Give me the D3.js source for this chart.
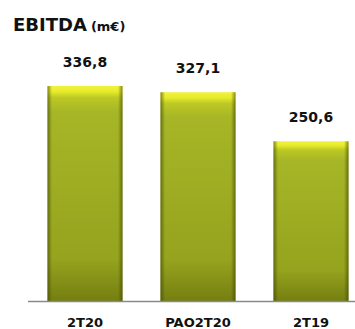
<!DOCTYPE html>
<html><head><meta charset="utf-8">
<script src="https://cdn.jsdelivr.net/npm/d3@7"></script>
<style>body{margin:0;background:#fff}svg{display:block}</style>
</head><body>
<script>
const categories = ["2T20", "PAO2T20", "2T19"];
const values = [336.8, 327.1, 250.6];
const valueLabels = ["336,8", "327,1", "250,6"];
const title = "EBITDA";
const unit = "(m€)";

const W = 355, H = 329;
const svg = d3.select("body").append("svg").attr("width", W).attr("height", H);
const defs = svg.append("defs");
const gv = defs.append("linearGradient").attr("id", "gv").attr("x1", 0).attr("x2", 0).attr("y1", 0).attr("y2", 1);
[[0, "#f2f23c"], [0.025, "#e6ec2c"], [0.055, "#bcc824"], [0.12, "#a6b626"], [0.8, "#95a31e"], [1, "#747e10"]]
  .forEach(([o, c]) => gv.append("stop").attr("offset", o).attr("stop-color", c));
const gh = defs.append("linearGradient").attr("id", "gh").attr("x1", 0).attr("x2", 1).attr("y1", 0).attr("y2", 0);
[[0, "#3a4200", 0.6], [0.06, "#3a4200", 0], [0.94, "#3a4200", 0], [1, "#3a4200", 0.6]]
  .forEach(([o, c, a]) => gh.append("stop").attr("offset", o).attr("stop-color", c).attr("stop-opacity", a));

const x = d3.scaleBand().domain(categories).range([28.5, 367.5]).paddingInner(0.336).paddingOuter(0.168);
const y = d3.scaleLinear().domain([0, 336.8]).range([302, 86]);

const g = svg.append("g");
g.selectAll("rect.bar").data(values).join("rect").attr("class", "bar")
  .attr("x", (d, i) => x(categories[i])).attr("width", x.bandwidth())
  .attr("y", d => y(d)).attr("height", d => y(0) - y(d))
  .attr("fill", "url(#gv)");
g.selectAll("rect.edge").data(values).join("rect").attr("class", "edge")
  .attr("x", (d, i) => x(categories[i])).attr("width", x.bandwidth())
  .attr("y", d => y(d)).attr("height", d => y(0) - y(d))
  .attr("fill", "url(#gh)");

svg.append("line").attr("x1", 28).attr("x2", W).attr("y1", 301.5).attr("y2", 301.5)
  .attr("stroke", "#8a8a8a").attr("stroke-width", 1.5);

g.selectAll("text.val").data(values).join("text").attr("class", "val")
  .attr("x", (d, i) => x(categories[i]) + x.bandwidth() / 2)
  .attr("y", d => y(d) - 19)
  .attr("text-anchor", "middle")
  .attr("font-family", "DejaVu Sans").attr("font-weight", "bold").attr("font-size", 14)
  .attr("fill", "#111")
  .text((d, i) => valueLabels[i]);

g.selectAll("text.cat").data(categories).join("text").attr("class", "cat")
  .attr("x", d => x(d) + x.bandwidth() / 2)
  .attr("y", 327)
  .attr("text-anchor", "middle")
  .attr("font-family", "DejaVu Sans").attr("font-weight", "bold").attr("font-size", 13)
  .attr("fill", "#111")
  .text(d => d);

const t = svg.append("text").attr("x", 13).attr("y", 31)
  .attr("font-family", "DejaVu Sans").attr("font-weight", "bold").attr("fill", "#111");
t.append("tspan").attr("font-size", 18).text(title);
t.append("tspan").attr("font-size", 13).attr("dx", 4).text(unit);
</script>
</body></html>
